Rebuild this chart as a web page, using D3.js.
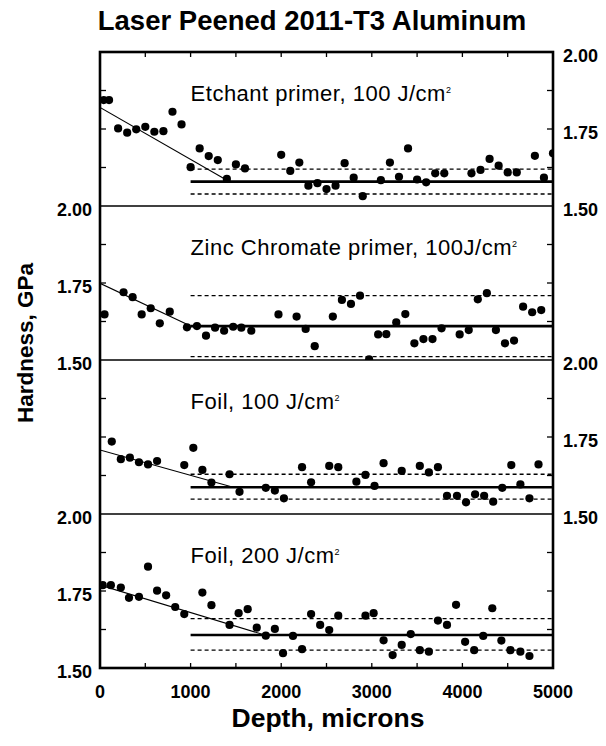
<!DOCTYPE html>
<html>
<head>
<meta charset="utf-8">
<script src="https://cdn.jsdelivr.net/npm/d3@7"></script>
<style>
	body { margin: 0; background: #fff; }
	svg { display: block; font-family: "Liberation Sans", Arial, sans-serif; }
</style>
</head>
<body>
<div id="fig"></div>
<script>
	// Panel names (annotation inside each panel)
	var panelLabels = ["Etchant primer, 100 J/cm", "Zinc Chromate primer, 100J/cm", "Foil, 100 J/cm", "Foil, 200 J/cm"];
	var axisSide = ["right", "left", "right", "left"];

	// hardness profiles, depth in microns, hardness in GPa
	var etchDepth = [40,100,200,300,400,500,600,700,800,900,1000,1100,1200,1300,1400,1500,1600,2000,2100,2200,2300,2400,2500,2600,2700,2800,2900,3100,3200,3300,3400,3500,3600,3700,3800,4100,4200,4300,4400,4500,4600,4800,4900,5000];
	var etchHard = [1.844,1.844,1.752,1.738,1.749,1.757,1.741,1.743,1.806,1.765,1.626,1.687,1.662,1.649,1.588,1.635,1.622,1.666,1.614,1.641,1.566,1.574,1.555,1.566,1.639,1.592,1.532,1.584,1.641,1.595,1.687,1.586,1.577,1.606,1.606,1.606,1.617,1.653,1.631,1.609,1.609,1.663,1.592,1.671];

	var zincDepth = [50,260,360,460,560,660,770,960,1070,1170,1270,1370,1470,1560,1670,1970,2170,2270,2370,2570,2670,2770,2870,2970,3070,3160,3270,3370,3470,3570,3670,3770,3970,4070,4170,4270,4370,4470,4570,4670,4770,4870];
	var zincHard = [1.648,1.720,1.704,1.648,1.668,1.619,1.657,1.606,1.610,1.579,1.605,1.595,1.608,1.605,1.595,1.648,1.641,1.601,1.545,1.641,1.695,1.682,1.709,1.502,1.583,1.584,1.622,1.649,1.554,1.568,1.568,1.603,1.583,1.597,1.697,1.717,1.597,1.554,1.563,1.673,1.655,1.662];

	var foil100Depth = [130,230,330,430,530,630,930,1030,1130,1230,1430,1540,1830,1930,2030,2230,2330,2530,2630,2830,2930,3030,3130,3330,3530,3630,3730,3830,3940,4040,4140,4240,4340,4440,4540,4640,4740,4840];
	var foil100Hard = [1.735,1.678,1.683,1.668,1.661,1.672,1.659,1.715,1.643,1.602,1.629,1.572,1.585,1.576,1.551,1.652,1.603,1.656,1.652,1.605,1.627,1.591,1.665,1.640,1.656,1.635,1.652,1.559,1.559,1.538,1.564,1.559,1.540,1.585,1.659,1.596,1.551,1.661];

	var foil200Depth = [30,120,230,320,430,530,630,730,830,930,1130,1230,1430,1530,1630,1730,1830,1930,2020,2130,2230,2330,2430,2530,2630,2930,3020,3130,3230,3330,3430,3530,3630,3730,3830,3930,4030,4130,4230,4330,4430,4530,4640,4740];
	var foil200Hard = [1.769,1.769,1.761,1.728,1.731,1.829,1.751,1.736,1.698,1.675,1.745,1.704,1.640,1.678,1.691,1.631,1.605,1.627,1.548,1.604,1.561,1.675,1.640,1.623,1.670,1.670,1.678,1.590,1.542,1.575,1.610,1.558,1.553,1.654,1.640,1.705,1.585,1.558,1.604,1.694,1.589,1.558,1.553,1.539];

	// fitted lines: sloped part [depth, hardness] pairs, plateau mean and scatter band
	var slopeFits = [[[0,1.820],[1430,1.579]], [[0,1.749],[1000,1.610]], [[0,1.708],[1470,1.587]], [[0,1.769],[1820,1.607]]];
	var plateauMean = [1.579, 1.610, 1.587, 1.607];
	var bandLow = [1.539, 1.511, 1.548, 1.558];
	var bandHigh = [1.620, 1.709, 1.629, 1.660];
	var plateauStart = 1000;

	var yTicks = [1.50, 1.625, 1.75, 1.875, 2.00];
	var yTickLabels = [1.50, 1.75, 2.00];
	var xTicks = [0,500,1000,1500,2000,2500,3000,3500,4000,4500,5000];
	var xTickLabels = [0,1000,2000,3000,4000,5000];

	var depths = [etchDepth, zincDepth, foil100Depth, foil200Depth];
	var hards = [etchHard, zincHard, foil100Hard, foil200Hard];

	var W = 606, H = 746;
	var plotL = 100, plotR = 553, plotT = 52, panelH = 154;
	var plotB = plotT + 4 * panelH;

	var svg = d3.select("#fig")
		.append("svg")
		.attr("width", W)
		.attr("height", H);

	var x = d3.scaleLinear().domain([0, 5000]).range([plotL, plotR]);

	// title
	svg.append("text")
		.attr("x", 312)
		.attr("y", 30)
		.attr("text-anchor", "middle")
		.attr("font-weight", "bold")
		.attr("font-size", 27.5)
		.text("Laser Peened 2011-T3 Aluminum");

	svg.append("defs").selectAll("clipPath")
		.data(d3.range(4))
		.enter()
		.append("clipPath")
		.attr("id", function(d) { return "clip" + d; })
		.append("rect")
		.attr("x", plotL)
		.attr("y", function(d) { return plotT + d * panelH; })
		.attr("width", plotR - plotL)
		.attr("height", panelH);

	// draw every panel
	d3.range(4).forEach(function(p) {
		var y0 = plotT + p * panelH;
		var y = d3.scaleLinear().domain([1.5, 2.0]).range([y0 + panelH, y0]);
		var g = svg.append("g");
		var clipped = g.append("g").attr("clip-path", "url(#clip" + p + ")");

		// scatter band (dashed)
		[bandLow[p], bandHigh[p]].forEach(function(v) {
			clipped.append("line")
				.attr("x1", x(plateauStart)).attr("x2", x(5000))
				.attr("y1", y(v)).attr("y2", y(v))
				.attr("stroke", "#000")
				.attr("stroke-width", 1.3)
				.attr("stroke-dasharray", "4,3");
		});

		// plateau mean
		clipped.append("line")
			.attr("x1", x(plateauStart)).attr("x2", x(5000))
			.attr("y1", y(plateauMean[p])).attr("y2", y(plateauMean[p]))
			.attr("stroke", "#000")
			.attr("stroke-width", 2.6);

		// sloped fit near surface
		clipped.append("path")
			.datum(slopeFits[p])
			.attr("fill", "none")
			.attr("stroke", "#000")
			.attr("stroke-width", 1.1)
			.attr("d", d3.line().x(function(d) { return x(d[0]); }).y(function(d) { return y(d[1]); }));

		// points
		clipped.selectAll("circle")
			.data(depths[p].map(function(d, i) { return [d, hards[p][i]]; }))
			.enter()
			.append("circle")
			.attr("cx", function(d) { return x(d[0]); })
			.attr("cy", function(d) { return y(d[1]); })
			.attr("r", 4.1)
			.attr("fill", "#000");

		// y ticks, both sides inward
		g.selectAll(".tl")
			.data(yTicks.slice(1, 4))
			.enter()
			.append("line")
			.attr("x1", plotL).attr("x2", plotL + 6)
			.attr("y1", function(d) { return y(d); }).attr("y2", function(d) { return y(d); })
			.attr("stroke", "#000").attr("stroke-width", 1.3);
		g.selectAll(".tr")
			.data(yTicks.slice(1, 4))
			.enter()
			.append("line")
			.attr("x1", plotR - 6).attr("x2", plotR)
			.attr("y1", function(d) { return y(d); }).attr("y2", function(d) { return y(d); })
			.attr("stroke", "#000").attr("stroke-width", 1.3);

		// y tick labels on alternating sides
		g.selectAll(".lab")
			.data(yTickLabels)
			.enter()
			.append("text")
			.attr("x", axisSide[p] == "left" ? plotL - 8 : plotR + 10)
			.attr("y", function(d) { return y(d) + 10; })
			.attr("text-anchor", axisSide[p] == "left" ? "end" : "start")
			.attr("font-weight", "bold")
			.attr("font-size", 18)
			.text(function(d) { return d3.format(".2f")(d); });

		// panel annotation
		var t = g.append("text")
			.attr("x", x(1000))
			.attr("y", y0 + 49)
			.attr("font-size", 22)
			.attr("letter-spacing", 0.5)
			.text(panelLabels[p]);
		t.append("tspan")
			.attr("dy", -8)
			.attr("font-size", 9)
			.text("2");

		// separator line between panels
		if (p > 0) {
			svg.append("line")
				.attr("x1", plotL).attr("x2", plotR)
				.attr("y1", y0).attr("y2", y0)
				.attr("stroke", "#000").attr("stroke-width", 1.4);
		}
	});

	// x ticks on top and bottom, inward
	svg.selectAll(".xt")
		.data(xTicks.slice(1, 10))
		.enter()
		.append("path")
		.attr("d", function(d) { return "M" + x(d) + "," + plotT + "v5M" + x(d) + "," + plotB + "v-5"; })
		.attr("stroke", "#000").attr("stroke-width", 1.3);

	svg.selectAll(".xl")
		.data(xTickLabels)
		.enter()
		.append("text")
		.attr("x", function(d) { return x(d); })
		.attr("y", plotB + 30)
		.attr("text-anchor", "middle")
		.attr("font-weight", "bold")
		.attr("font-size", 18)
		.text(function(d) { return d; });

	// frame
	svg.append("rect")
		.attr("x", plotL).attr("y", plotT)
		.attr("width", plotR - plotL).attr("height", plotB - plotT)
		.attr("fill", "none")
		.attr("stroke", "#000")
		.attr("stroke-width", 2.6);

	// axis titles
	svg.append("text")
		.attr("x", 328)
		.attr("y", 727)
		.attr("text-anchor", "middle")
		.attr("font-weight", "bold")
		.attr("font-size", 26.5)
		.text("Depth, microns");

	svg.append("text")
		.attr("transform", "translate(33,343) rotate(-90)")
		.attr("text-anchor", "middle")
		.attr("font-weight", "bold")
		.attr("font-size", 22.5)
		.text("Hardness, GPa");
</script>
</body>
</html>
